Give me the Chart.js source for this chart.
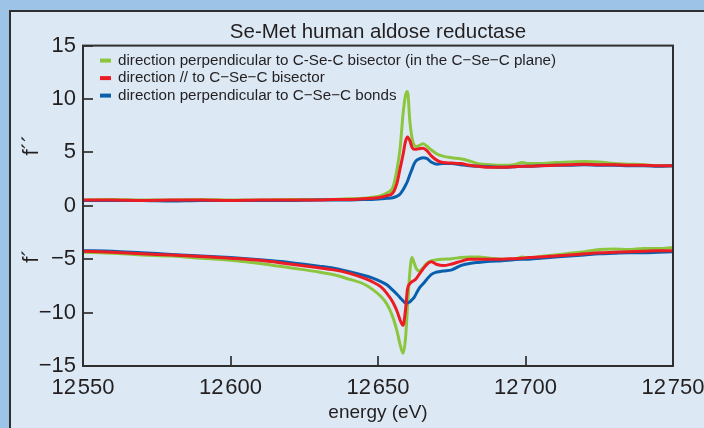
<!DOCTYPE html>
<html lang="en">
<head>
<meta charset="UTF-8">
<title>Se-Met human aldose reductase</title>
<style>
  body { margin: 0; background: #9dc3e6; overflow: hidden; }
  .painel { position: absolute; left: 9px; top: 10px; width: 695px; height: 418px; background: #dce9f5;
            border-left: 2px solid #2f2f2f; border-top: 2px solid #2f2f2f; box-sizing: border-box; }
  .grafico { position: absolute; left: 0; top: 0; width: 704px; height: 428px; }
</style>
</head>
<body>

<div class="painel"></div>
<div class="grafico"><canvas id="myChart"></canvas></div>

<script src="https://cdn.jsdelivr.net/npm/chart.js"></script>
<script>
// energy grid (eV), denser around the Se edge
const energia = [12550, 12560, 12570, 12580, 12590, 12600, 12610, 12620, 12630, 12635, 12640, 12645, 12648, 12651, 12653,
  12655, 12656.5, 12657.5, 12658.5, 12659.3, 12660, 12660.8, 12661.5, 12662.2, 12663, 12664, 12665.3, 12666.5, 12668,
  12670, 12672, 12675, 12678, 12681, 12684, 12688, 12692, 12696, 12699, 12701, 12705, 12710, 12715, 12720, 12725,
  12730, 12735, 12740, 12745, 12750]

// f'' (upper curves)
const fppPerpBissetriz = [0.55, 0.6, 0.55, 0.55, 0.6, 0.55, 0.55, 0.6, 0.6, 0.6, 0.65, 0.7, 0.8, 0.95, 1.2,
  1.7, 3.5, 5.4, 8.6, 10.3, 10.7, 7.9, 6.4, 5.7, 5.55, 5.65, 5.8, 5.6, 5.25,
  4.85, 4.65, 4.5, 4.4, 4.2, 3.95, 3.85, 3.8, 3.85, 4.05, 3.95, 3.95, 4.05, 4.1, 4.15, 4.1,
  3.95, 3.9, 3.85, 3.75, 3.75]
const fppParalelo = [0.55, 0.55, 0.5, 0.55, 0.55, 0.5, 0.55, 0.55, 0.55, 0.6, 0.6, 0.65, 0.7, 0.8, 0.95,
  1.2, 2.2, 3.5, 4.8, 6.0, 6.45, 6.1, 5.5, 5.3, 5.3, 5.35, 5.4, 5.2, 4.7,
  4.25, 4.05, 4.0, 3.95, 3.8, 3.7, 3.6, 3.6, 3.65, 3.7, 3.7, 3.75, 3.8, 3.85, 3.9, 3.85,
  3.85, 3.8, 3.8, 3.75, 3.75]
const fppPerpLigacoes = [0.5, 0.5, 0.5, 0.45, 0.5, 0.5, 0.5, 0.5, 0.55, 0.55, 0.55, 0.6, 0.6, 0.65, 0.7,
  0.75, 0.9, 1.1, 1.5, 1.9, 2.3, 2.9, 3.4, 3.9, 4.25, 4.4, 4.5, 4.45, 4.1,
  3.9, 3.95, 3.95, 3.85, 3.75, 3.7, 3.65, 3.6, 3.65, 3.7, 3.7, 3.75, 3.8, 3.8, 3.85, 3.8,
  3.8, 3.75, 3.75, 3.7, 3.75]

// f' (lower curves)
const fpPerpBissetriz = [-4.35, -4.45, -4.6, -4.7, -4.9, -5.1, -5.4, -5.8, -6.2, -6.45, -6.85, -7.3, -7.8, -8.5, -9.2,
  -10.4, -11.8, -13.0, -13.8, -12.5, -9.5, -6.2, -4.85, -5.3, -5.9, -6.1, -5.8, -5.4, -5.15,
  -5.05, -5.0, -4.95, -4.85, -4.8, -4.8, -4.9, -5.0, -5.0, -4.8, -4.9, -4.75, -4.6, -4.45, -4.3, -4.1,
  -4.05, -4.1, -4.0, -4.0, -3.9]
const fpParalelo = [-4.25, -4.35, -4.5, -4.6, -4.75, -4.9, -5.1, -5.45, -5.8, -6.0, -6.3, -6.75, -7.1, -7.6, -8.2,
  -9.0, -9.9, -10.7, -11.2, -9.8, -7.8, -7.3, -7.1, -7.0, -6.8, -6.4, -5.9, -5.5, -5.25,
  -5.5, -5.6, -5.45, -5.2, -5.0, -5.0, -5.0, -5.0, -4.95, -4.9, -4.85, -4.8, -4.7, -4.6, -4.5, -4.4,
  -4.35, -4.3, -4.25, -4.2, -4.2]
const fpPerpLigacoes = [-4.2, -4.25, -4.4, -4.55, -4.7, -4.85, -5.05, -5.3, -5.65, -5.85, -6.15, -6.5, -6.75, -7.1, -7.4,
  -7.9, -8.3, -8.6, -8.9, -9.1, -9.1, -9.0, -8.8, -8.6, -8.2, -7.7, -7.3, -6.9, -6.45,
  -6.2, -6.1, -6.0, -5.6, -5.4, -5.3, -5.2, -5.15, -5.05, -5.0, -5.0, -4.9, -4.8, -4.7, -4.6, -4.5,
  -4.45, -4.4, -4.4, -4.35, -4.3]

const rotulos = [
  "direction perpendicular to C-Se-C bisector (in the C\u2212Se\u2212C plane)",
  "direction // to C\u2212Se\u2212C bisector",
  "direction perpendicular to C\u2212Se\u2212C bonds"
]

const verde = '#8cc63f'
const vermelho = '#ec1c24'
const azul = '#0a5fad'
const texto = '#231f20'

function serie(valores) {
  return energia.map(function (e, i) { return { x: e, y: valores[i] } })
}

function linha(label, valores, cor, ordem, legenda) {
  return {
    label: label,
    data: serie(valores),
    borderColor: cor,
    backgroundColor: cor,
    borderWidth: 3,
    pointRadius: 0,
    showLine: true,
    cubicInterpolationMode: 'monotone',
    order: ordem,
    legenda: legenda
  }
}

// legend drawn inside the plot, top-left
const legendaManual = {
  id: 'legendaManual',
  afterDatasetsDraw(chart) {
    const ctx = chart.ctx
    const area = chart.chartArea
    const itens = chart.data.datasets.filter(function (d) { return d.legenda })
    ctx.save()
    ctx.font = '15.2px "Liberation Sans", Arial, sans-serif'
    ctx.textBaseline = 'middle'
    itens.forEach(function (d, i) {
      const y = area.top + 15 + i * 17.5
      const x = area.left + 17
      ctx.strokeStyle = d.borderColor
      ctx.lineWidth = 4
      ctx.beginPath()
      ctx.moveTo(x, y)
      ctx.lineTo(x + 11, y)
      ctx.stroke()
      ctx.fillStyle = texto
      ctx.fillText(d.label, x + 18, y)
    })
    ctx.restore()
  }
}

// frame around plot + the two rotated y labels
const moldura = {
  id: 'moldura',
  afterDraw(chart) {
    const ctx = chart.ctx
    const a = chart.chartArea
    ctx.save()
    ctx.strokeStyle = '#2f2f2f'
    ctx.lineWidth = 2
    ctx.strokeRect(a.left, a.top, a.right - a.left, a.bottom - a.top)

    ctx.fillStyle = texto
    ctx.font = '22px "Liberation Sans", Arial, sans-serif'
    ctx.textAlign = 'center'
    ctx.textBaseline = 'middle'
    const labelsY = [['f\u00b4\u00b4', 145], ['f\u00b4', 256]]
    labelsY.forEach(function (l) {
      ctx.save()
      ctx.translate(32, l[1])
      ctx.rotate(-Math.PI / 2)
      ctx.fillText(l[0], 0, 0)
      ctx.restore()
    })
    ctx.restore()
  }
}

Chart.defaults.font.family = '"Liberation Sans", Arial, sans-serif'
Chart.defaults.color = texto

const ctx = document.getElementById('myChart')

const Grafico = new Chart(ctx, {
  type: 'scatter',
  data: {
    datasets: [
      linha(rotulos[0], fppPerpBissetriz, verde, 2, true),
      linha(rotulos[1], fppParalelo, vermelho, 0, true),
      linha(rotulos[2], fppPerpLigacoes, azul, 1, true),
      linha(rotulos[0], fpPerpBissetriz, verde, 2, false),
      linha(rotulos[1], fpParalelo, vermelho, 0, false),
      linha(rotulos[2], fpPerpLigacoes, azul, 1, false)
    ]
  },
  options: {
    responsive: true,
    maintainAspectRatio: false,
    animation: false,
    layout: { padding: { left: 0, right: 31, top: 0, bottom: 0 } },
    plugins: {
      legend: { display: false },
      tooltip: { enabled: false },
      title: {
        display: true,
        text: 'Se-Met human aldose reductase',
        fullSize: false,
        color: texto,
        font: { size: 20.5, weight: 'normal' },
        padding: { top: 20, bottom: 1 }
      }
    },
    scales: {
      x: {
        type: 'linear',
        min: 12550,
        max: 12750,
        border: { display: false },
        grid: { drawOnChartArea: false, tickLength: -10, color: '#4a4a4a', lineWidth: 2 },
        ticks: {
          stepSize: 50,
          padding: 19,
          maxRotation: 0,
          color: texto,
          font: { size: 22 },
          callback: function (v) { return String(v).replace(/^(\d\d)(\d{3})$/, '$1\u200a$2') }
        },
        title: { display: true, text: 'energy (eV)', color: texto, font: { size: 19 }, padding: { top: 0, bottom: 4 } },
        afterFit: function (s) { s.height = 62; s.paddingLeft = 0; s.paddingRight = 0 }
      },
      y: {
        min: -15,
        max: 15,
        border: { display: false },
        grid: { drawOnChartArea: false, tickLength: -10, color: '#4a4a4a', lineWidth: 2 },
        ticks: {
          stepSize: 5,
          padding: 17,
          color: texto,
          font: { size: 22 },
          callback: function (v) { return String(v).replace('-', '\u2212') }
        },
        afterFit: function (s) { s.width = 83; s.paddingTop = 0; s.paddingBottom = 0 }
      }
    }
  },
  plugins: [legendaManual, moldura]
});
</script>
</body>
</html>
